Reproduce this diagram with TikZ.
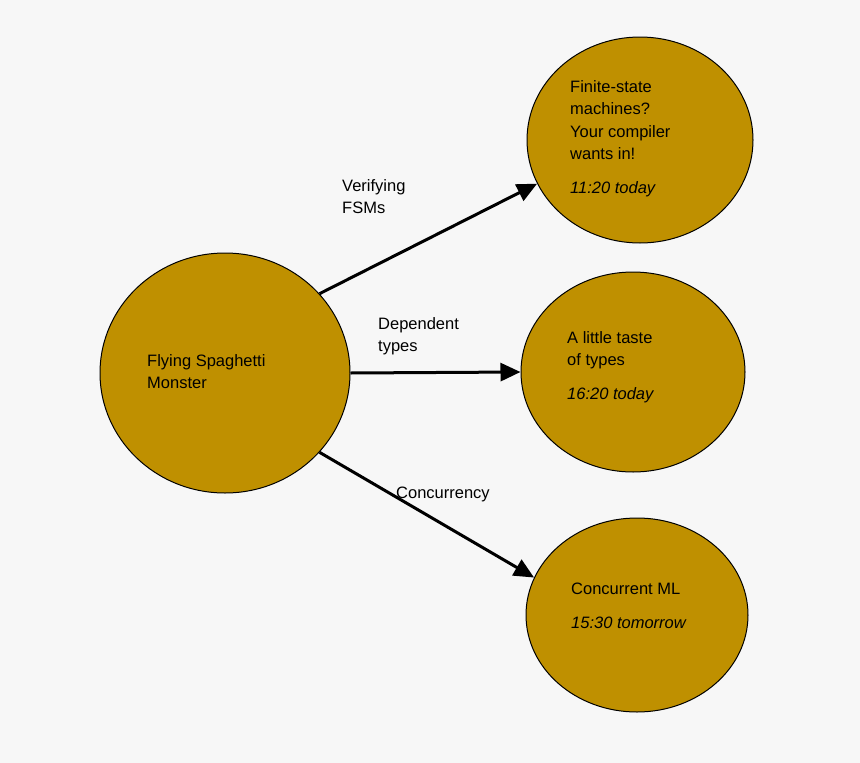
\documentclass[tikz,border=0pt]{standalone}
\usepackage{fontspec}
\setmainfont{Liberation Sans}
\usetikzlibrary{shapes.geometric,arrows.meta}
\definecolor{bg}{HTML}{F7F7F7}
\definecolor{gold}{HTML}{BF9000}
\begin{document}
\begin{tikzpicture}[x=1pt,y=-1pt,
  bub/.style={ellipse,draw=black,line width=1pt,fill=gold,inner sep=0pt},
  txt/.style={anchor=north west,align=left,font=\fontsize{16.5}{22.5}\selectfont,inner sep=0pt},
  arr/.style={line width=3pt,-{Triangle[length=20pt,width=18pt]}}]
\fill[bg] (0,0) rectangle (860,763);
\useasboundingbox (0,0) rectangle (860,763);
\node[bub,minimum width=250,minimum height=240] (a) at (225,373) {};
\node[bub,minimum width=226,minimum height=206] (b) at (640,140) {};
\node[bub,minimum width=224,minimum height=200] (c) at (633,372) {};
\node[bub,minimum width=222,minimum height=194] (d) at (637,615) {};
\node[txt] (ta) at (147,354) {Flying Spaghetti\\Monster};
\node[txt] (tb) at (570,80) {Finite-state\\machines?\\Your compiler\\wants in!\\[11pt]\textit{11:20 today}};
\node[txt] (tc) at (567,331) {A little taste\\of types\\[11pt]\textit{16:20 today}};
\node[txt] (td) at (571,583) {Concurrent ML\\[11pt]\textit{15:30 tomorrow}};
\node[txt] (la) at (342,179) {Verifying\\FSMs};
\node[txt] (lb) at (378,317) {Dependent\\types};
\node[txt] (lc) at (396,487) {Concurrency};
\draw[arr] (a.40) -- (b.203);
\draw[arr] (a.0) -- (c.180);
\draw[arr] (a.-40) -- (d.160);
\end{tikzpicture}
\end{document}
